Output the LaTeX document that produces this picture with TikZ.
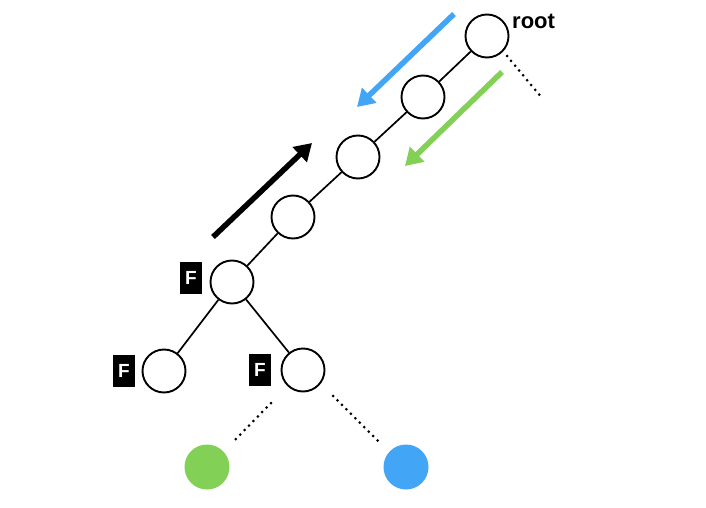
\documentclass[tikz,border=0pt]{standalone}
\usepackage{fontspec}
\setmainfont{Liberation Sans}
\usetikzlibrary{arrows.meta}
\definecolor{tgreen}{HTML}{82D055}
\definecolor{tblue}{HTML}{42A5F5}
\tikzset{
  tnode/.style={circle,draw=black,line width=1.9pt,minimum size=43pt,inner sep=0pt,fill=white},
  dot/.style={circle,minimum size=45pt,inner sep=0pt},
  fbox/.style={fill=black,text=white,font=\bfseries\fontsize{19}{19}\selectfont,minimum width=22pt,minimum height=32pt,inner sep=0pt},
  edge/.style={line width=1.7pt},
  dots/.style={line width=3pt,dash pattern=on 0pt off 6.3pt,line cap=round},
  bigarrow/.style={line width=5.5pt,-{Triangle[length=17pt,width=20pt]}}
}
\begin{document}
\begin{tikzpicture}[x=1pt,y=-1pt]
\useasboundingbox (0,0) rectangle (706,508);
\node[tnode] (r) at (487,36) {};
\node[tnode] (a) at (423,97) {};
\node[tnode] (b) at (358,157) {};
\node[tnode] (c) at (293,217) {};
\node[tnode] (d) at (232,282) {};
\node[tnode] (l) at (164,371) {};
\node[tnode] (rr) at (303,370) {};
\draw[edge] (r) -- (a);
\draw[edge] (a) -- (b);
\draw[edge] (b) -- (c);
\draw[edge] (c) -- (d);
\draw[edge] (d) -- (l);
\draw[edge] (d) -- (rr);
\node[anchor=west,inner sep=0pt,font=\bfseries\fontsize{22}{22}\selectfont] (rl) at (512,21) {root};
\node[fbox] (f1) at (191,278) {F};
\node[fbox] (f2) at (124,371) {F};
\node[fbox] (f3) at (260,370) {F};
\node[dot,fill=tgreen] (g) at (207,467) {};
\node[dot,fill=tblue] (bl) at (406,467) {};
\coordinate (rd1) at (507,56);
\coordinate (rd2) at (542,98);
\coordinate (ld1) at (271,403);
\coordinate (ld2) at (234,441);
\coordinate (rd3) at (333,396);
\coordinate (rd4) at (378,441);
\draw[dots] (rd1) -- (rd2);
\draw[dots] (ld1) -- (ld2);
\draw[dots] (rd3) -- (rd4);
\coordinate (ba1) at (454,14);
\coordinate (ba2) at (357,107);
\coordinate (ga1) at (502,72);
\coordinate (ga2) at (405,166);
\coordinate (ka1) at (213,237);
\coordinate (ka2) at (312,143);
\draw[bigarrow,tblue] (ba1) -- (ba2);
\draw[bigarrow,tgreen] (ga1) -- (ga2);
\draw[bigarrow,black] (ka1) -- (ka2);
\end{tikzpicture}
\end{document}
